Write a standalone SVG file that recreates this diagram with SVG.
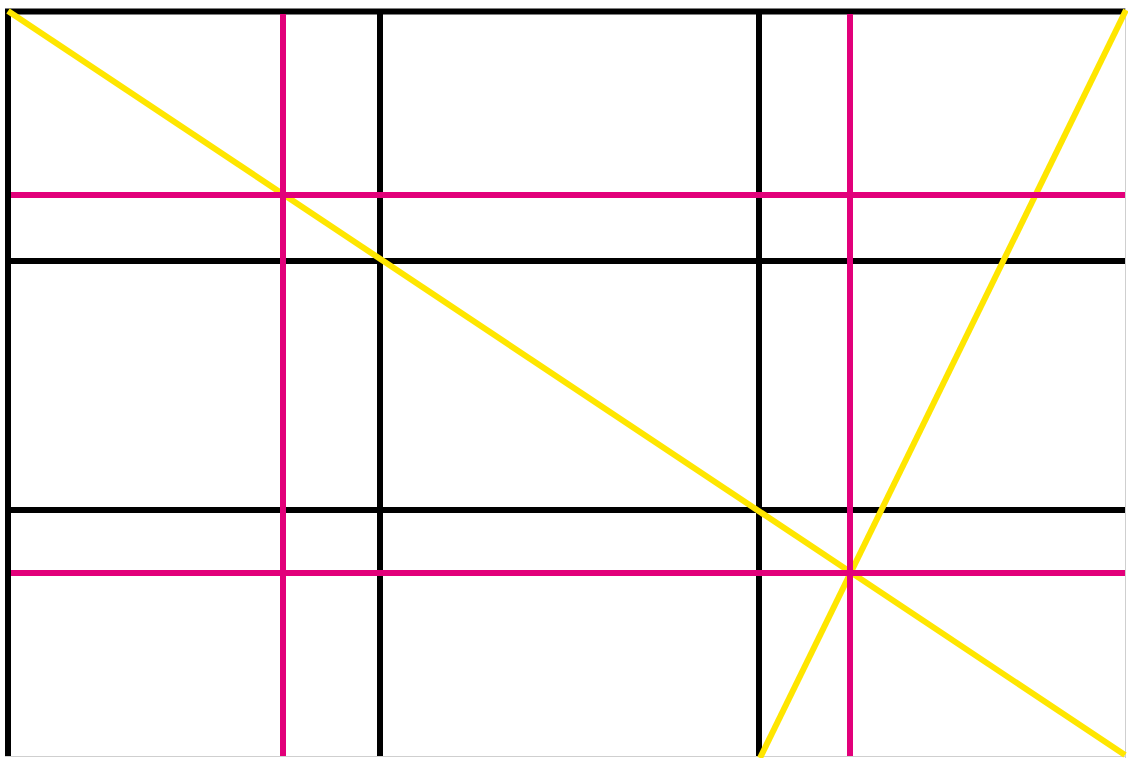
<svg xmlns="http://www.w3.org/2000/svg" width="1128" height="758" viewBox="0 0 1128 758">
<style>
.blk{stroke:#000;stroke-width:6;fill:none}
.mag{stroke:#E2007A;stroke-width:6;fill:none}
.yel{stroke:#FFE600;stroke-width:6;fill:none}
.edge{stroke:#cfcfcf;stroke-width:1;fill:none}
</style>
<rect x="0" y="0" width="1128" height="758" fill="#fff"/>
<g id="edges">
<line class="edge" x1="1125.5" y1="8" x2="1125.5" y2="758"/>
<line class="edge" x1="5" y1="756.5" x2="1126" y2="756.5"/>
</g>
<g id="black-grid">
<line class="blk" x1="5" y1="11.5" x2="1125" y2="11.5"/>
<line class="blk" x1="8" y1="9" x2="8" y2="756"/>
<line class="blk" x1="380" y1="9" x2="380" y2="756"/>
<line class="blk" x1="759" y1="9" x2="759" y2="756"/>
<line class="blk" x1="5" y1="261" x2="1125" y2="261"/>
<line class="blk" x1="5" y1="510" x2="1125" y2="510"/>
</g>
<g id="yellow-diagonals">
<line class="yel" x1="8" y1="11" x2="1125" y2="755"/>
<line class="yel" x1="760" y1="758" x2="1126" y2="10"/>
</g>
<g id="magenta-grid">
<line class="mag" x1="283" y1="14" x2="283" y2="756"/>
<line class="mag" x1="850" y1="14" x2="850" y2="756"/>
<line class="mag" x1="11" y1="195" x2="1125" y2="195"/>
<line class="mag" x1="11" y1="573" x2="1125" y2="573"/>
</g>
</svg>
